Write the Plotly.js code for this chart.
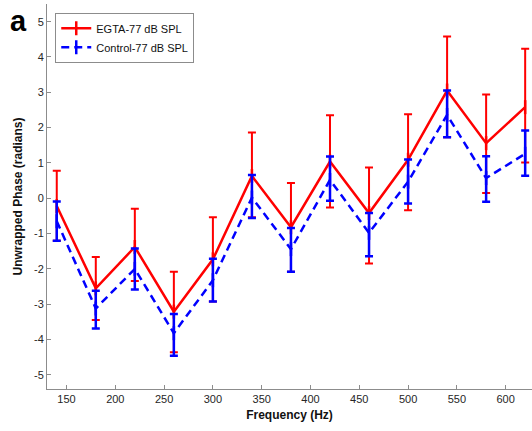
<!DOCTYPE html>
<html>
<head>
<meta charset="utf-8">
<script src="https://cdn.plot.ly/plotly-3.0.1.min.js"></script>
<style>html,body{margin:0;padding:0;background:#fff;}#chart{width:532px;height:431px;}</style>
</head>
<body>
<div id="chart"></div>
<script>
// Frequencies (Hz)
const freq = [140, 180, 220, 260, 300, 340, 380, 420, 460, 500, 540, 580, 620];

// EGTA-77 dB SPL
const egtaMean  = [-0.22, -2.55, -1.38, -3.21, -1.73, 0.63, -0.82, 1.04, -0.42, 1.09, 3.05, 1.56, 2.58];
const egtaPlus  = [1.00, 0.89, 1.08, 1.13, 1.19, 1.23, 1.25, 1.31, 1.29, 1.29, 1.53, 1.38, 1.65];
const egtaMinus = [0.98, 0.90, 0.96, 1.15, 1.19, 1.17, 1.26, 1.30, 1.43, 1.43, 1.32, 1.41, 1.57];

// Control-77 dB SPL
const ctrlMean  = [-0.65, -3.12, -2.00, -3.82, -2.32, 0.02, -1.44, 0.52, -0.98, 0.47, 2.36, 0.57, 1.26];
const ctrlPlus  = [0.56, 0.50, 0.58, 0.54, 0.61, 0.64, 0.60, 0.66, 0.56, 0.63, 0.69, 0.62, 0.66];
const ctrlMinus = [0.55, 0.57, 0.58, 0.64, 0.60, 0.58, 0.64, 0.59, 0.66, 0.62, 0.63, 0.67, 0.62];

const names = ['EGTA-77 dB SPL', 'Control-77 dB SPL'];
const xTicks = [150, 200, 250, 300, 350, 400, 450, 500, 550, 600];
const yTicks = [-5, -4, -3, -2, -1, 0, 1, 2, 3, 4, 5];

const red = '#ff0000', blue = '#0000ff';
const FONT = 'Liberation Sans, Arial, sans-serif';

const traces = [
  {
    x: freq, y: egtaMean, name: names[0], type: 'scatter', mode: 'lines+markers',
    line: {color: red, width: 2.5},
    marker: {symbol: 'line-ns-open', size: 10, color: red, line: {color: red, width: 2.5}},
    error_y: {type: 'data', symmetric: false, array: egtaPlus, arrayminus: egtaMinus,
              color: red, thickness: 2, width: 4}
  },
  {
    x: freq, y: ctrlMean, name: names[1], type: 'scatter', mode: 'lines+markers',
    line: {color: blue, width: 2.5, dash: '8px,5px'},
    marker: {symbol: 'line-ns-open', size: 10, color: blue, line: {color: blue, width: 2.5}},
    error_y: {type: 'data', symmetric: false, array: ctrlPlus, arrayminus: ctrlMinus,
              color: blue, thickness: 2.5, width: 4}
  }
];

const axisCommon = {
  showline: true, linecolor: '#8c8c8c', linewidth: 1,
  ticks: 'inside', ticklen: 4, tickcolor: '#8c8c8c', tickwidth: 1,
  showgrid: false, zeroline: false, mirror: false,
  tickfont: {family: FONT, size: 11, color: '#262626'}
};

const layout = {
  width: 532, height: 431,
  margin: {l: 47, r: 0, t: 4, b: 42, pad: 0},
  paper_bgcolor: '#fff', plot_bgcolor: '#fff',
  showlegend: true,
  legend: {
    x: 0.017, y: 0.977, xanchor: 'left', yanchor: 'top',
    bgcolor: '#fff', bordercolor: '#8c8c8c', borderwidth: 1,
    font: {family: FONT, size: 11, color: '#111'},
    traceorder: 'normal', tracegroupgap: 0, itemwidth: 30
  },
  xaxis: Object.assign({}, axisCommon, {
    range: [130, 627], tickvals: xTicks, ticktext: xTicks.map(String),
    title: {text: '<b>Frequency (Hz)</b>', standoff: 6,
            font: {family: FONT, size: 12, color: '#111'}}
  }),
  yaxis: Object.assign({}, axisCommon, {
    range: [-5.4, 5.5], tickvals: yTicks, ticktext: yTicks.map(String),
    title: {text: '<b>Unwrapped Phase (radians)</b>', standoff: 8,
            font: {family: FONT, size: 12, color: '#111'}}
  }),
  annotations: [{
    text: '<b>a</b>', xref: 'paper', yref: 'paper', x: -0.058, y: 0.955,
    xanchor: 'center', yanchor: 'middle', showarrow: false,
    font: {family: FONT, size: 29, color: '#000'}
  }]
};

Plotly.newPlot('chart', traces, layout, {displayModeBar: false, staticPlot: true});
</script>
</body>
</html>
